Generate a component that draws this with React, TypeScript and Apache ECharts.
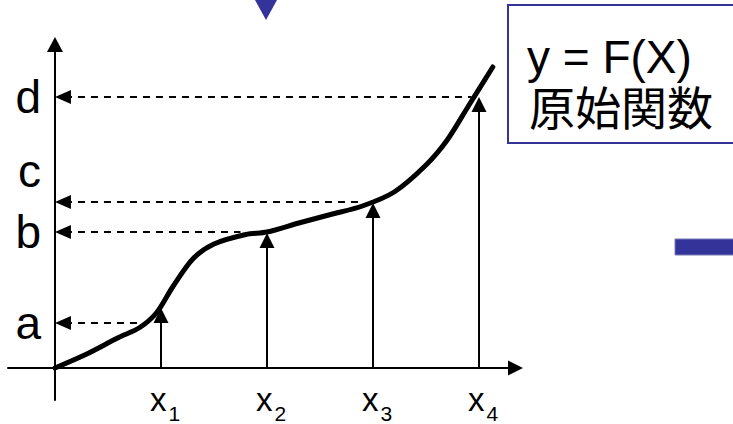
import React, { useEffect, useRef } from 'react';
import * as echarts from 'echarts';

const FONT = '"Liberation Sans", Arial, Helvetica, sans-serif';
const CJK_FONT = '"Liberation Sans", "Noto Sans CJK JP", sans-serif';
const BLUE = '#333399';

// Tick labels
const yLabelNames = ['a', 'b', 'c', 'd'];
const yLabelValues = [4.5, 13.6, 19.7, 27.1];
const xTickValues = [1, 2, 3, 4];
const xSubscripts = ['1', '2', '3', '4'];

// Curve y = F(X)
const curveX = [0, 0.3, 0.6, 0.8, 0.96, 1.11, 1.3, 1.5, 1.8, 2.0, 2.3, 2.6, 2.9, 3.2, 3.5, 3.7, 3.9, 4.13];
const curveY = [0, 1.4, 3.05, 4.05, 5.55, 8.1, 10.9, 12.4, 13.35, 13.6, 14.5, 15.35, 16.2, 17.6, 20.3, 22.8, 26.2, 30.1];

// Solid vertical arrows from the x axis up to the curve
const upArrowX = [1, 2, 3, 4];
const upArrowTop = [6.0, 13.5, 16.5, 27.1];

// Dashed horizontal arrows from the curve to the y axis
const dashLevels = [4.5, 13.6, 16.6, 27.1];
const dashFromX = [0.87, 1.75, 2.88, 3.93];

const boxLines = ['y = F(X)', '原始関数'];

export default function App() {
  const ref = useRef<HTMLDivElement>(null);

  useEffect(() => {
    if (!ref.current) return;
    const chart = echarts.init(ref.current, null, { renderer: 'svg' });

    const curveData = curveX.map((x, i) => [x, curveY[i]]);
    const arrowRows = [
      ...upArrowX.map((x, i) => [x, 0, x, upArrowTop[i], 0]),
      ...dashLevels.map((y, i) => [dashFromX[i], y, 0, y, 1]),
    ];

    const renderArrow = (params: any, api: any) => {
      const p0 = api.coord([api.value(0), api.value(1)]);
      const p1 = api.coord([api.value(2), api.value(3)]);
      const dashed = api.value(4) === 1;
      const dx = p1[0] - p0[0];
      const dy = p1[1] - p0[1];
      const len = Math.sqrt(dx * dx + dy * dy) || 1;
      const ux = dx / len;
      const uy = dy / len;
      const nx = -uy;
      const ny = ux;
      const L = dashed ? 16 : 15;
      const W = dashed ? 7 : 7.5;
      const bx = p1[0] - ux * L;
      const by = p1[1] - uy * L;
      return {
        type: 'group',
        children: [
          {
            type: 'line',
            shape: { x1: bx, y1: by, x2: p0[0], y2: p0[1] },
            style: {
              stroke: '#000',
              lineWidth: 2,
              lineDash: dashed ? [7, 6] : null,
              lineDashOffset: dashed ? -7 : 0,
            },
          },
          {
            type: 'polygon',
            shape: {
              points: [
                [p1[0], p1[1]],
                [bx + nx * W, by + ny * W],
                [bx - nx * W, by - ny * W],
              ],
            },
            style: { fill: '#000' },
          },
        ],
      };
    };

    const option: any = {
      animation: false,
      backgroundColor: '#fff',
      grid: {
        left: 8,
        top: 44.5,
        right: 217.5,
        bottom: 24,
        containLabel: false,
        outerBoundsMode: 'none',
      },
      xAxis: {
        type: 'value',
        min: -0.443,
        max: 4.344,
        axisLine: {
          onZero: true,
          lineStyle: { color: '#000', width: 2 },
          symbol: ['none', 'triangle'],
          symbolSize: [15, 15],
        },
        axisTick: { show: false },
        splitLine: { show: false },
        axisLabel: {
          customValues: xTickValues,
          margin: -17,
          color: '#000',
          padding: [0, 0, 0, 8],
          formatter: (v: number) => {
            const i = xTickValues.indexOf(v);
            return '{x|x}{s|' + (i >= 0 ? xSubscripts[i] : '') + '}';
          },
          rich: {
            x: { fontSize: 33, lineHeight: 33, fontFamily: FONT, color: '#000', verticalAlign: 'middle' },
            s: {
              fontSize: 21,
              lineHeight: 21,
              fontFamily: FONT,
              color: '#000',
              verticalAlign: 'middle',
              padding: [28, 0, 0, 2],
            },
          },
        },
      },
      yAxis: {
        type: 'value',
        min: -3.2,
        max: 32.35,
        axisLine: {
          onZero: true,
          lineStyle: { color: '#000', width: 2 },
          symbol: ['none', 'triangle'],
          symbolSize: [16, 15],
        },
        axisTick: { show: false },
        splitLine: { show: false },
        axisLabel: {
          customValues: yLabelValues,
          margin: -33,
          color: '#000',
          fontSize: 46,
          fontFamily: FONT,
          padding: [0, 0, 12, 0],
          formatter: (v: number) => {
            const i = yLabelValues.indexOf(v);
            return i >= 0 ? yLabelNames[i] : '';
          },
        },
      },
      series: [
        {
          type: 'custom',
          coordinateSystem: 'cartesian2d',
          data: arrowRows,
          encode: { x: [0, 2], y: [1, 3] },
          renderItem: renderArrow,
          z: 2,
          silent: true,
        },
        {
          type: 'line',
          data: curveData,
          smooth: 0.3,
          showSymbol: false,
          symbol: 'none',
          lineStyle: { color: '#000', width: 5, cap: 'round', join: 'round' },
          z: 3,
          silent: true,
        },
      ],
      graphic: [
        {
          type: 'polygon',
          shape: { points: [[255, 0], [277, 0], [266, 20]] },
          style: { fill: BLUE },
          z: 10,
        },
        {
          type: 'rect',
          shape: { x: 675, y: 239, width: 60, height: 16 },
          style: { fill: BLUE, stroke: '#7a7ab8', lineWidth: 1 },
          z: 10,
        },
        {
          type: 'rect',
          shape: { x: 508, y: 5, width: 240, height: 138 },
          style: { fill: '#fff', stroke: BLUE, lineWidth: 2 },
          z: 10,
        },
        {
          type: 'text',
          x: 527,
          y: 57,
          style: {
            text: boxLines[0],
            fill: '#000',
            font: '46px ' + FONT,
            align: 'left',
            verticalAlign: 'middle',
          },
          z: 11,
        },
        {
          type: 'text',
          x: 529,
          y: 109,
          style: {
            text: boxLines[1],
            fill: '#000',
            font: '46px ' + CJK_FONT,
            align: 'left',
            verticalAlign: 'middle',
          },
          z: 11,
        },
      ],
    };

    chart.setOption(option);
    return () => {
      chart.dispose();
    };
  }, []);

  return (
    <div
      ref={ref}
      style={{ position: 'absolute', left: 0, top: 0, width: 733, height: 424, background: '#fff' }}
    />
  );
}
